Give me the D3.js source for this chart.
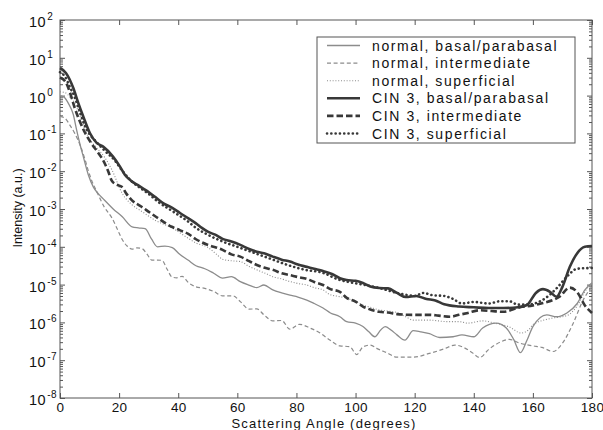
<!DOCTYPE html>
<html>
<head>
<meta charset="utf-8">
<script src="https://cdn.jsdelivr.net/npm/d3@7"></script>
<style>
body { margin: 0; background: #fff; }
text { font-family: "Liberation Sans", Arial, Helvetica, sans-serif; fill: #111; }
</style>
</head>
<body>
<svg class="chart"></svg>
<script>
var width = 603, height = 430;
var mLeft = 60, mRight = 592, mTop = 20, mBottom = 398;

// legend labels
var names = ["normal, basal/parabasal", "normal, intermediate", "normal, superficial",
             "CIN 3, basal/parabasal", "CIN 3, intermediate", "CIN 3, superficial"];

// x tick labels (degrees) and y decades (log10 exponents)
var xTicks = [0, 20, 40, 60, 80, 100, 120, 140, 160, 180];
var yDecades = [-8, -7, -6, -5, -4, -3, -2, -1, 0, 1, 2];

// each series: [scattering angle (deg), log10 of intensity]
var normBasal = [[0,0.0],[1.5,-0.05],[2.8,-0.2],[4.5,-0.5],[5.6,-0.9],[6.8,-1.3],[7.9,-1.62],[9.6,-2.1],[11.3,-2.42],
  [13,-2.6],[15,-2.76],[18,-3.0],[21,-3.2],[24.4,-3.47],[26.5,-3.5],[28.8,-3.52],[31,-3.8],[33,-4.0],[35.5,-3.98],
  [38,-4.02],[40.5,-4.2],[43.3,-4.35],[46,-4.5],[49,-4.58],[52,-4.7],[55,-4.83],[58,-4.79],[61,-4.92],[63.5,-5.0],
  [66.6,-5.08],[69,-5.01],[72,-5.14],[75,-5.22],[77.8,-5.28],[80.5,-5.33],[83.5,-5.41],[86,-5.5],[89,-5.62],
  [91.5,-5.75],[94.7,-5.85],[97,-5.98],[100,-6.02],[102.5,-6.11],[104.5,-6.25],[106.5,-6.38],[108.5,-6.2],
  [110,-6.11],[112,-6.2],[114,-6.33],[116.7,-6.47],[119.5,-6.22],[122,-6.25],[125,-6.3],[128.5,-6.4],[133,-6.38],
  [136,-6.33],[140,-6.38],[143,-6.15],[147.6,-6.02],[151,-6.15],[153.5,-6.45],[155.8,-6.8],[158,-6.47],
  [160,-6.11],[164.7,-5.8],[168,-5.85],[171.5,-5.75],[175,-5.5],[177.6,-5.14],[180,-4.95]];

var normInter = [[0,-0.55],[1.7,-0.6],[3.5,-0.8],[5,-1.0],[7,-1.35],[8.5,-1.7],[9.5,-1.97],[10.5,-2.2],[12.8,-2.6],
  [15,-2.95],[17.6,-3.24],[19.5,-3.55],[21,-3.8],[22.7,-3.98],[24.4,-4.06],[26,-4.03],[27.8,-4.05],[29.5,-4.2],
  [31,-4.35],[33,-4.35],[34.5,-4.36],[36.3,-4.6],[37.9,-4.8],[39.5,-4.82],[41.3,-4.78],[43.5,-4.95],[45.7,-5.05],
  [49,-5.1],[52,-5.18],[55,-5.3],[58.6,-5.3],[61,-5.45],[64,-5.65],[66.6,-5.64],[69,-5.8],[72,-5.96],[75,-5.95],
  [77.8,-6.18],[81,-6.05],[84.6,-6.15],[88,-6.28],[91,-6.45],[94.7,-6.62],[98,-6.64],[100.4,-6.85],[102.5,-6.65],
  [105,-6.6],[107.5,-6.7],[110.5,-6.8],[114,-6.92],[119.5,-6.92],[125,-6.82],[130,-6.7],[133.6,-6.6],[137,-6.68],
  [139.5,-6.8],[142,-6.93],[145,-6.72],[149,-6.52],[152,-6.45],[155.6,-6.55],[160,-6.62],[163,-6.66],[166.8,-6.77],
  [170,-6.55],[173.6,-6.03],[177,-5.41],[180,-5.05]];

var normSuper = [[0,0.1],[1.7,0.08],[3.5,-0.05],[5,-0.2],[6.8,-0.55],[8.5,-0.91],[10,-1.15],[12,-1.35],[15,-1.62],
  [17.6,-1.97],[21,-2.58],[24.4,-2.89],[27.8,-3.07],[32,-3.29],[37.9,-3.5],[43.3,-3.77],[46,-3.9],[49.7,-4.0],
  [53,-4.2],[55,-4.33],[58,-4.37],[61,-4.39],[64,-4.52],[66.6,-4.61],[70,-4.72],[72,-4.79],[75,-4.85],[77.8,-4.92],
  [80.5,-4.97],[83.5,-5.01],[86,-5.08],[89,-5.14],[91,-5.25],[94.7,-5.32],[97,-5.36],[100,-5.45],[102.5,-5.54],
  [105,-5.6],[108,-5.67],[111,-5.7],[114,-5.74],[117,-5.85],[119.5,-5.94],[125,-5.94],[131,-5.98],[135,-5.98],
  [138,-6.02],[143,-5.96],[147,-6.02],[152,-6.12],[156,-6.28],[158.5,-6.2],[160,-6.06],[165.8,-5.9],[171.5,-5.82],
  [175,-5.56],[178,-5.14],[180,-4.97]];

var cinBasal = [[0,0.73],[2,0.6],[4.5,0.2],[6.2,-0.2],[7.9,-0.56],[10.1,-0.99],[12.4,-1.25],[14.6,-1.35],[18,-1.62],
  [20.3,-1.88],[22,-2.1],[24,-2.25],[26.4,-2.37],[29,-2.5],[32,-2.67],[35,-2.85],[38,-2.97],[40.5,-3.1],[43.3,-3.24],
  [46,-3.38],[48,-3.5],[50,-3.6],[52.5,-3.68],[55,-3.79],[58,-3.86],[61,-3.95],[64,-4.06],[66.6,-4.13],[69,-4.17],
  [72,-4.26],[75,-4.34],[77.8,-4.39],[80.5,-4.47],[83.5,-4.53],[86,-4.58],[89,-4.64],[92,-4.72],[94.7,-4.83],
  [97,-4.88],[100,-4.9],[102.5,-4.96],[105,-5.05],[108,-5.09],[111,-5.1],[114,-5.22],[117,-5.33],[120.5,-5.3],
  [124,-5.38],[127,-5.42],[130,-5.52],[135,-5.58],[140,-5.6],[145,-5.62],[150,-5.62],[155,-5.6],[158,-5.54],
  [161,-5.22],[163.4,-5.12],[165.8,-5.19],[168,-5.32],[170,-5.06],[172.5,-4.53],[175,-4.17],[177.6,-4.0],[180,-3.98]];

var cinInter = [[0,0.48],[2,0.35],[3.5,0.05],[5,-0.33],[6.8,-0.7],[8.5,-0.99],[10.5,-1.25],[12.8,-1.5],[14.5,-1.7],
  [16.3,-2.0],[17.5,-2.25],[19,-2.35],[20.9,-2.41],[22.5,-2.6],[24.2,-2.76],[27.6,-2.94],[30.5,-3.1],[33.3,-3.25],
  [37.8,-3.47],[40.5,-3.56],[43.4,-3.66],[46,-3.8],[49.7,-3.94],[55,-4.08],[58,-4.2],[61,-4.26],[64,-4.38],
  [66.6,-4.48],[69,-4.55],[72,-4.61],[75,-4.7],[77.8,-4.75],[80.5,-4.8],[83.5,-4.85],[86,-4.93],[89,-5.01],
  [91.5,-5.12],[94.7,-5.19],[97,-5.35],[100,-5.45],[102.5,-5.58],[105,-5.66],[108,-5.72],[111,-5.74],[114,-5.78],
  [119.5,-5.8],[125,-5.8],[128,-5.82],[132,-5.85],[135,-5.8],[138,-5.75],[142,-5.68],[146,-5.7],[150,-5.72],
  [155.6,-5.6],[160,-5.55],[163.4,-5.49],[169,-5.32],[172.5,-5.08],[175,-5.2],[177.6,-5.55],[180,-5.75]];

var cinSuper = [[0,0.62],[1.7,0.5],[3.5,0.2],[5,-0.05],[6.8,-0.45],[8.5,-0.82],[10,-1.02],[12,-1.2],[15,-1.45],
  [18.6,-1.72],[21,-1.98],[24,-2.25],[27.8,-2.48],[30,-2.6],[33,-2.8],[37.9,-3.05],[43.3,-3.33],[46,-3.5],[50,-3.68],
  [55,-3.86],[60,-4.0],[66,-4.17],[71,-4.31],[77,-4.48],[83,-4.61],[89,-4.69],[94,-4.86],[97,-4.92],[102.5,-5.0],
  [108,-5.09],[114,-5.22],[117,-5.27],[120,-5.3],[123,-5.22],[126,-5.28],[130,-5.3],[133,-5.38],[136,-5.5],
  [140,-5.46],[145,-5.5],[149,-5.44],[152,-5.44],[155,-5.53],[159,-5.52],[163,-5.42],[166,-5.25],[168,-5.1],
  [171.5,-4.79],[175,-4.58],[180,-4.56]];

var series = [normBasal, normInter, normSuper, cinBasal, cinInter, cinSuper];

// line styles per series
var colors = ["#8c8c8c", "#8c8c8c", "#8c8c8c", "#383838", "#383838", "#383838"];
var widths = [1.3, 1.2, 1.1, 2.6, 2.6, 2.6];
var dashes = [null, "4,2.6", "1,1.8", null, "6.5,3", "0.1,4.2"];
var caps = ["butt", "butt", "butt", "butt", "butt", "round"];

var chart = d3.select(".chart")
    .attr("width", width)
    .attr("height", height);

var x = d3.scaleLinear().domain([0, 180]).range([mLeft, mRight]);
var y = d3.scaleLog().domain([1e-8, 1e2]).range([mBottom, mTop]);

var minorTicks = [];
yDecades.forEach(function(e) {
    if (e < 2) for (var k = 2; k <= 9; k++) minorTicks.push(k * Math.pow(10, e));
});
var majorTicks = yDecades.map(function(e) { return Math.pow(10, e); });

// frame
chart.append("rect")
    .attr("x", mLeft).attr("y", mTop)
    .attr("width", mRight - mLeft).attr("height", mBottom - mTop)
    .attr("fill", "none").attr("stroke", "#555").attr("stroke-width", 1);

function noDomain(g) { g.select(".domain").remove(); g.selectAll("line").attr("stroke", "#555"); }

chart.append("g").attr("transform", "translate(0," + mBottom + ")")
    .call(d3.axisBottom(x).tickValues(xTicks).tickSize(-5).tickPadding(4.5).tickFormat(d3.format("d")))
    .call(noDomain)
    .selectAll("text").attr("font-size", 13.5).style("letter-spacing", "0.3px").attr("fill", "#111");

chart.append("g").attr("transform", "translate(0," + mTop + ")")
    .call(d3.axisTop(x).tickValues(xTicks).tickSize(-5).tickFormat(""))
    .call(noDomain);

chart.append("g").attr("transform", "translate(" + mLeft + ",0)")
    .call(d3.axisLeft(y).tickValues(majorTicks).tickSize(-5).tickFormat(""))
    .call(noDomain);
chart.append("g").attr("transform", "translate(" + mLeft + ",0)")
    .call(d3.axisLeft(y).tickValues(minorTicks).tickSize(-3).tickFormat(""))
    .call(noDomain);
chart.append("g").attr("transform", "translate(" + mRight + ",0)")
    .call(d3.axisRight(y).tickValues(majorTicks).tickSize(-5).tickFormat(""))
    .call(noDomain);
chart.append("g").attr("transform", "translate(" + mRight + ",0)")
    .call(d3.axisRight(y).tickValues(minorTicks).tickSize(-3).tickFormat(""))
    .call(noDomain);

// y labels as 10^n
var ylab = chart.append("g").selectAll("text")
    .data(yDecades)
    .enter().append("text")
    .attr("x", 29)
    .attr("y", function(d) { return y(Math.pow(10, d)) + 7; })
    .attr("font-size", 14.5)
    .style("letter-spacing", "0.5px");
ylab.append("tspan").text("10");
ylab.append("tspan").attr("dy", -7).attr("dx", 1).attr("font-size", 10).text(function(d) { return d; });

// axis titles
chart.append("text")
    .attr("x", (mLeft + mRight) / 2 - 2).attr("y", 428)
    .attr("text-anchor", "middle").attr("font-size", 13)
    .style("letter-spacing", "1.2px")
    .text("Scattering Angle (degrees)");

chart.append("text")
    .attr("transform", "translate(21.5,208) rotate(-90)")
    .attr("text-anchor", "middle").attr("font-size", 12.5)
    .text("Intensity (a.u.)");

// curves
var line = d3.line()
    .x(function(d) { return x(d[0]); })
    .y(function(d) { return y(Math.pow(10, d[1])); })
    .curve(d3.curveMonotoneX);

chart.append("g").selectAll("path")
    .data(series)
    .enter().append("path")
    .attr("d", line)
    .attr("fill", "none")
    .attr("stroke", function(d, i) { return colors[i]; })
    .attr("stroke-width", function(d, i) { return widths[i]; })
    .attr("stroke-dasharray", function(d, i) { return dashes[i]; })
    .attr("stroke-linecap", function(d, i) { return caps[i]; })
    .attr("stroke-linejoin", "round");

// legend
var legend = chart.append("g");
legend.append("rect")
    .attr("x", 317).attr("y", 37).attr("width", 258).attr("height", 106)
    .attr("fill", "#fff").attr("stroke", "#555").attr("stroke-width", 1);

var item = legend.selectAll("g.item")
    .data(names)
    .enter().append("g")
    .attr("class", "item")
    .attr("transform", function(d, i) { return "translate(0," + (45.5 + i * 17.6) + ")"; });

item.append("line")
    .attr("x1", 327).attr("x2", 360)
    .attr("stroke", function(d, i) { return colors[i]; })
    .attr("stroke-width", function(d, i) { return widths[i]; })
    .attr("stroke-dasharray", function(d, i) { return dashes[i]; })
    .attr("stroke-linecap", function(d, i) { return caps[i]; });

item.append("text")
    .attr("x", 372).attr("y", 5)
    .attr("font-size", 14)
    .style("letter-spacing", "1.6px")
    .text(function(d) { return d; });
</script>
</body>
</html>
